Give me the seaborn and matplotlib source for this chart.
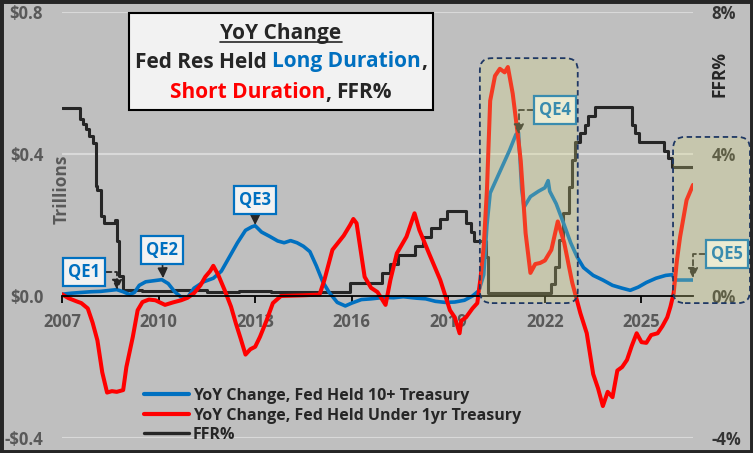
import matplotlib
matplotlib.use("Agg")
import numpy as np
import pandas as pd
import matplotlib.pyplot as plt
import seaborn as sns
from matplotlib.patches import FancyBboxPatch, Rectangle
from matplotlib.lines import Line2D
from matplotlib.transforms import IdentityTransform

# ---------------- data ----------------
blue_year = [2007.0, 2007.3, 2007.6, 2007.9, 2008.2, 2008.5, 2008.7, 2008.9, 2009.1, 2009.25,
             2009.4, 2009.6, 2009.85, 2010.1, 2010.3, 2010.5, 2010.7, 2010.9, 2011.1, 2011.4,
             2011.7, 2011.95, 2012.2, 2012.45, 2012.7, 2012.9, 2013.0, 2013.2, 2013.45, 2013.7,
             2013.9, 2014.1, 2014.3, 2014.5, 2014.7, 2014.9, 2015.1, 2015.3, 2015.55, 2015.8,
             2016.0, 2016.3, 2016.6, 2017.0, 2017.3, 2017.6, 2018.0, 2018.3, 2018.6, 2018.9,
             2019.2, 2019.5, 2019.75, 2019.95, 2020.1, 2020.2, 2020.3, 2020.5, 2020.7, 2020.9,
             2021.1, 2021.18, 2021.28, 2021.35, 2021.55, 2021.8, 2022.0, 2022.1, 2022.15, 2022.35,
             2022.6, 2022.8, 2023.0, 2023.2, 2023.5, 2023.8, 2024.1, 2024.4, 2024.65, 2024.9,
             2025.15, 2025.45, 2025.75, 2025.95, 2026.05, 2026.6]
blue_val = [0.005, 0.008, 0.010, 0.012, 0.013, 0.016, 0.018, 0.012, 0.004, 0.010,
            0.030, 0.040, 0.043, 0.046, 0.035, 0.012, -0.003, -0.004, 0.022, 0.040,
            0.050, 0.070, 0.110, 0.150, 0.185, 0.195, 0.198, 0.180, 0.168, 0.155,
            0.150, 0.156, 0.150, 0.140, 0.125, 0.085, 0.040, 0.010, -0.018, -0.028,
            -0.020, -0.010, -0.008, -0.004, -0.005, -0.002, -0.006, -0.008, -0.015, -0.018,
            -0.017, -0.012, 0.000, 0.015, 0.060, 0.200, 0.290, 0.330, 0.370, 0.410,
            0.455, 0.460, 0.300, 0.250, 0.280, 0.295, 0.305, 0.325, 0.295, 0.260,
            0.200, 0.150, 0.110, 0.080, 0.058, 0.045, 0.030, 0.022, 0.016, 0.025,
            0.038, 0.050, 0.058, 0.060, 0.045, 0.045]

red_year = [2007.0, 2007.2, 2007.45, 2007.6, 2007.8, 2007.95, 2008.1, 2008.25, 2008.4, 2008.55,
            2008.7, 2008.9, 2009.0, 2009.2, 2009.35, 2009.5, 2009.7, 2009.9, 2010.2, 2010.45,
            2010.7, 2010.9, 2011.1, 2011.3, 2011.45, 2011.6, 2011.7, 2011.85, 2012.05, 2012.25,
            2012.4, 2012.55, 2012.7, 2012.85, 2013.0, 2013.15, 2013.35, 2013.55, 2013.8, 2014.5,
            2015.0, 2015.15, 2015.4, 2015.75, 2015.95, 2016.05, 2016.15, 2016.4, 2016.6, 2016.8,
            2017.05, 2017.2, 2017.4, 2017.7, 2017.95, 2018.1, 2018.4, 2018.75, 2019.05, 2019.2,
            2019.35, 2019.4, 2019.55, 2019.75, 2019.9, 2020.0, 2020.1, 2020.2, 2020.3, 2020.45,
            2020.6, 2020.75, 2020.85, 2021.0, 2021.15, 2021.25, 2021.4, 2021.55, 2021.7, 2021.85,
            2022.0, 2022.2, 2022.4, 2022.6, 2022.85, 2023.1, 2023.3, 2023.5, 2023.65, 2023.8,
            2023.95, 2024.1, 2024.25, 2024.4, 2024.55, 2024.7, 2024.85, 2025.0, 2025.15, 2025.3,
            2025.5, 2025.65, 2025.8, 2025.9, 2026.0, 2026.1, 2026.2, 2026.4, 2026.6]
red_val = [0.005, -0.006, -0.015, -0.020, -0.035, -0.075, -0.125, -0.215, -0.272, -0.268,
           -0.270, -0.265, -0.200, -0.115, -0.040, -0.017, -0.010, -0.012, -0.025, -0.018,
           -0.012, -0.005, 0.008, 0.030, 0.054, 0.070, 0.085, 0.060, 0.017, -0.030,
           -0.077, -0.120, -0.165, -0.150, -0.143, -0.115, -0.070, -0.020, 0.000, 0.002,
           0.004, 0.045, 0.130, 0.170, 0.200, 0.217, 0.205, 0.054, 0.023, 0.011,
           -0.025, 0.045, 0.120, 0.167, 0.233, 0.186, 0.120, 0.045, -0.040, -0.060,
           -0.105, -0.070, -0.060, -0.035, -0.020, 0.050, 0.140, 0.300, 0.550, 0.620,
           0.640, 0.630, 0.645, 0.570, 0.460, 0.380, 0.177, 0.065, 0.090, 0.093,
           0.100, 0.130, 0.210, 0.150, 0.037, -0.048, -0.105, -0.220, -0.260, -0.310,
           -0.270, -0.285, -0.210, -0.200, -0.180, -0.140, -0.105, -0.130, -0.132, -0.110,
           -0.105, -0.085, -0.060, -0.030, 0.008, 0.100, 0.167, 0.270, 0.313]

ffr_year = [2007.0, 2007.56, 2007.65, 2007.75, 2007.85, 2007.95, 2008.05, 2008.1, 2008.2, 2008.3,
            2008.65, 2008.72, 2008.78, 2008.9, 2009.5, 2010.5, 2011.5, 2012.5, 2013.5, 2014.5,
            2015.95, 2016.95, 2017.2, 2017.45, 2017.95, 2018.2, 2018.45, 2018.75, 2018.97, 2019.55,
            2019.7, 2019.8, 2020.17, 2020.22, 2022.2, 2022.3, 2022.45, 2022.55, 2022.75, 2022.85,
            2022.95, 2023.1, 2023.25, 2023.35, 2023.55, 2024.7, 2024.8, 2024.93, 2025.7, 2025.83,
            2025.95, 2026.6]
ffr_val = [5.30, 5.00, 4.85, 4.70, 4.50, 4.30, 3.10, 3.00, 2.25, 2.05,
           2.15, 1.55, 0.55, 0.18, 0.15, 0.17, 0.10, 0.14, 0.12, 0.10,
           0.37, 0.66, 0.91, 1.15, 1.41, 1.66, 1.91, 2.16, 2.40, 2.05,
           1.80, 1.55, 1.10, 0.08, 0.33, 0.83, 1.58, 2.33, 3.08, 3.83,
           4.33, 4.58, 4.83, 5.08, 5.33, 4.83, 4.58, 4.33, 4.08, 3.88,
           3.63, 3.63]

x_ticks = [2007, 2010, 2013, 2016, 2019, 2022, 2025]
left_ticks = [-0.4, 0.0, 0.4, 0.8]
left_labels = ["-$0.4", "$0.0", "$0.4", "$0.8"]
right_ticks = [-4, 0, 4, 8]
right_labels = ["-4%", "0%", "4%", "8%"]
legend_labels = ["YoY Change, Fed Held 10+ Treasury",
                 "YoY Change, Fed Held Under 1yr Treasury",
                 "FFR%"]

# annotations: (label, text pos year, text pos value, arrow tip year, arrow tip value, dashed/angled)
qe_notes = [("QE1", 2007.68, 0.068, 2008.71, 0.017, True),
            ("QE2", 2010.10, 0.130, 2010.14, 0.050, False),
            ("QE3", 2013.00, 0.270, 2013.00, 0.200, False),
            ("QE4", 2022.30, 0.525, 2021.19, 0.455, True),
            ("QE5", 2027.65, 0.118, 2026.60, 0.050, True)]
# shaded regions (years, values)
shade_regions = [((2019.98, 2023.02), (-0.02, 0.67)),
                 ((2025.98, 2028.37), (-0.02, 0.448))]

# ---------------- style ----------------
BG = "#BFBFBF"
BLUE = "#0070C0"
RED = "#FF0000"
DARK = "#262626"
GRAY = "#595959"
W, H = 753, 453
FONT = ["Open Sans", "DejaVu Sans"]

sns.set_theme(style="white")
plt.rcParams["font.family"] = FONT
plt.rcParams["font.weight"] = "bold"

fig = plt.figure(figsize=(W / 100, H / 100), dpi=100, facecolor=BG)
ax = fig.add_axes([62 / W, 15 / H, 631 / W, 426 / H])
ax2 = ax.twinx()
ax.set_zorder(ax2.get_zorder() + 1)
ax.patch.set_visible(False)
ax2.patch.set_visible(False)

# FFR on right axis
ffr_df = pd.DataFrame({"year": ffr_year, "ffr": ffr_val})
sns.lineplot(data=ffr_df, x="year", y="ffr", ax=ax2, color=DARK, lw=2.2,
             drawstyle="steps-post", errorbar=None, legend=False)
ax2.set_ylim(-4, 8)
ax2.set_yticks(right_ticks)
ax2.set_yticklabels(right_labels)
ax2.tick_params(axis="y", length=0, pad=13.5, labelsize=12, labelcolor="#333333")
ax2.yaxis.grid(True, color="#D9D9D9", lw=1.5)
ax2.set_axisbelow(True)
ax2.set_ylabel("")
for s in ax2.spines.values():
    s.set_visible(False)

blue_df = pd.DataFrame({"year": blue_year, "v": blue_val})
red_df = pd.DataFrame({"year": red_year, "v": red_val})
sns.lineplot(data=blue_df, x="year", y="v", ax=ax, color=BLUE, lw=2.6, errorbar=None, legend=False)
sns.lineplot(data=red_df, x="year", y="v", ax=ax, color=RED, lw=2.9, errorbar=None, legend=False)

ax.set_xlim(2007, 2026.6)
ax.set_ylim(-0.4, 0.8)
ax2.set_xlim(2007, 2026.6)
ax.set_xlabel("")
ax.set_ylabel("")
ax.set_xticks(x_ticks)
ax.set_xticklabels([str(t) for t in x_ticks])
ax.set_yticks(left_ticks)
ax.set_yticklabels(left_labels)
for k in ["top", "left", "right"]:
    ax.spines[k].set_visible(False)
ax.spines["bottom"].set_position(("data", 0))
ax.spines["bottom"].set_color("black")
ax.spines["bottom"].set_linewidth(1.3)
ax.tick_params(axis="x", direction="out", length=5, width=1.3, color="black",
               pad=7, labelsize=12, labelcolor=GRAY, bottom=True)
ax.tick_params(axis="y", length=0, pad=13.5, labelsize=12, labelcolor=GRAY)

# annotations
for lab, tx, ty, px, py, dashed in qe_notes:
    if dashed:
        ap = dict(arrowstyle="-|>", color=DARK, lw=1.3, linestyle=(0, (3, 2)),
                  connectionstyle="angle,angleA=0,angleB=90,rad=0",
                  mutation_scale=15, shrinkA=0, shrinkB=0)
    else:
        ap = dict(arrowstyle="-|>", color=DARK, lw=1.2, mutation_scale=15,
                  shrinkA=0, shrinkB=0)
    ax.annotate(lab, xy=(px, py), xytext=(tx, ty), textcoords="data",
                ha="center", va="center", fontsize=12, fontweight="bold", color=BLUE,
                bbox=dict(boxstyle="square,pad=0.3", fc="#F2F2F2", ec=BLUE, lw=1.6),
                arrowprops=ap, annotation_clip=False, zorder=5)

# legend
handles = [Line2D([], [], color=BLUE, lw=3.0),
           Line2D([], [], color=RED, lw=3.0),
           Line2D([], [], color=DARK, lw=2.4)]
leg = ax.legend(handles, legend_labels, loc="upper left",
                bbox_to_anchor=((144 - 62) / 631, (438 - 388) / 426),
                frameon=False, prop={"size": 11.5, "weight": "bold"},
                handlelength=2.8, handletextpad=0.25, labelspacing=0.22,
                borderpad=0, borderaxespad=0)
for t in leg.get_texts():
    t.set_color(DARK)

# shaded regions (drawn over the lines, semi transparent)
fig.canvas.draw()
for (x0, x1), (y0, y1) in shade_regions:
    (dx0, dy0) = ax.transData.transform((x0, y0))
    (dx1, dy1) = ax.transData.transform((x1, y1))
    fill = FancyBboxPatch((dx0, dy0), dx1 - dx0, dy1 - dy0,
                          boxstyle="round,pad=0,rounding_size=12",
                          transform=IdentityTransform(), fc="#D9D97F", ec="none",
                          alpha=0.27, zorder=6)
    edge = FancyBboxPatch((dx0, dy0), dx1 - dx0, dy1 - dy0,
                          boxstyle="round,pad=0,rounding_size=12",
                          transform=IdentityTransform(), fill=False, ec="#1F3864",
                          lw=1.3, linestyle=(0, (3, 2)), zorder=7)
    fig.add_artist(fill)
    fig.add_artist(edge)

# side labels
fig.text(61.5 / W, 1 - 189 / H, "Trillions", rotation=90, ha="center", va="center",
         color=GRAY, fontsize=12.5, fontweight="bold")
fig.text(720 / W, 1 - 74 / H, "FFR%", rotation=90, ha="center", va="center",
         color=DARK, fontsize=12.5, fontweight="bold")

# title box with multi-coloured text
renderer = fig.canvas.get_renderer()
TSIZE = 15


def measure(s):
    t = fig.text(0, 0, s, fontsize=TSIZE, fontweight="bold")
    w = t.get_window_extent(renderer).width
    t.remove()
    return w


space_w = measure("a a") - measure("aa")


def row(segs, cx, cy, underline=False):
    arts = []
    total = 0
    for s, c in segs:
        if s == " ":
            arts.append(None)
            total += space_w
            continue
        t = fig.text(0, 0, s, color=c, fontsize=TSIZE, fontweight="bold",
                     ha="left", va="center", transform=IdentityTransform(), zorder=11)
        w = t.get_window_extent(renderer).width
        arts.append((t, w))
        total += w
    x = cx - total / 2
    for a in arts:
        if a is None:
            x += space_w
            continue
        t, w = a
        t.set_position((x, H - cy))
        x += w
    if underline:
        t, w = arts[0]
        bb = t.get_window_extent(renderer)
        fig.add_artist(Line2D([bb.x0, bb.x1], [bb.y0 + 2, bb.y0 + 2], color=DARK, lw=1.2,
                              transform=IdentityTransform(), zorder=11))
    return total


box_cx = 281
row([("YoY Change", DARK)], box_cx, 33, underline=True)
row([("Fed Res Held", DARK), (" ", None), ("Long Duration", BLUE), (",", DARK)], box_cx, 62)
row([("Short Duration", RED), (",", DARK), (" ", None), ("FFR%", DARK)], box_cx, 93)
fig.add_artist(Rectangle((129, H - 110), 304, 97, transform=IdentityTransform(),
                         fc="#F2F2F2", ec="black", lw=1.5, zorder=10))

# outer border
fig.add_artist(Rectangle((0, 0), 1, 1, transform=fig.transFigure, fill=False,
                         ec="#262626", lw=5, zorder=20))

fig.savefig("out.png", dpi=100, facecolor=BG)
